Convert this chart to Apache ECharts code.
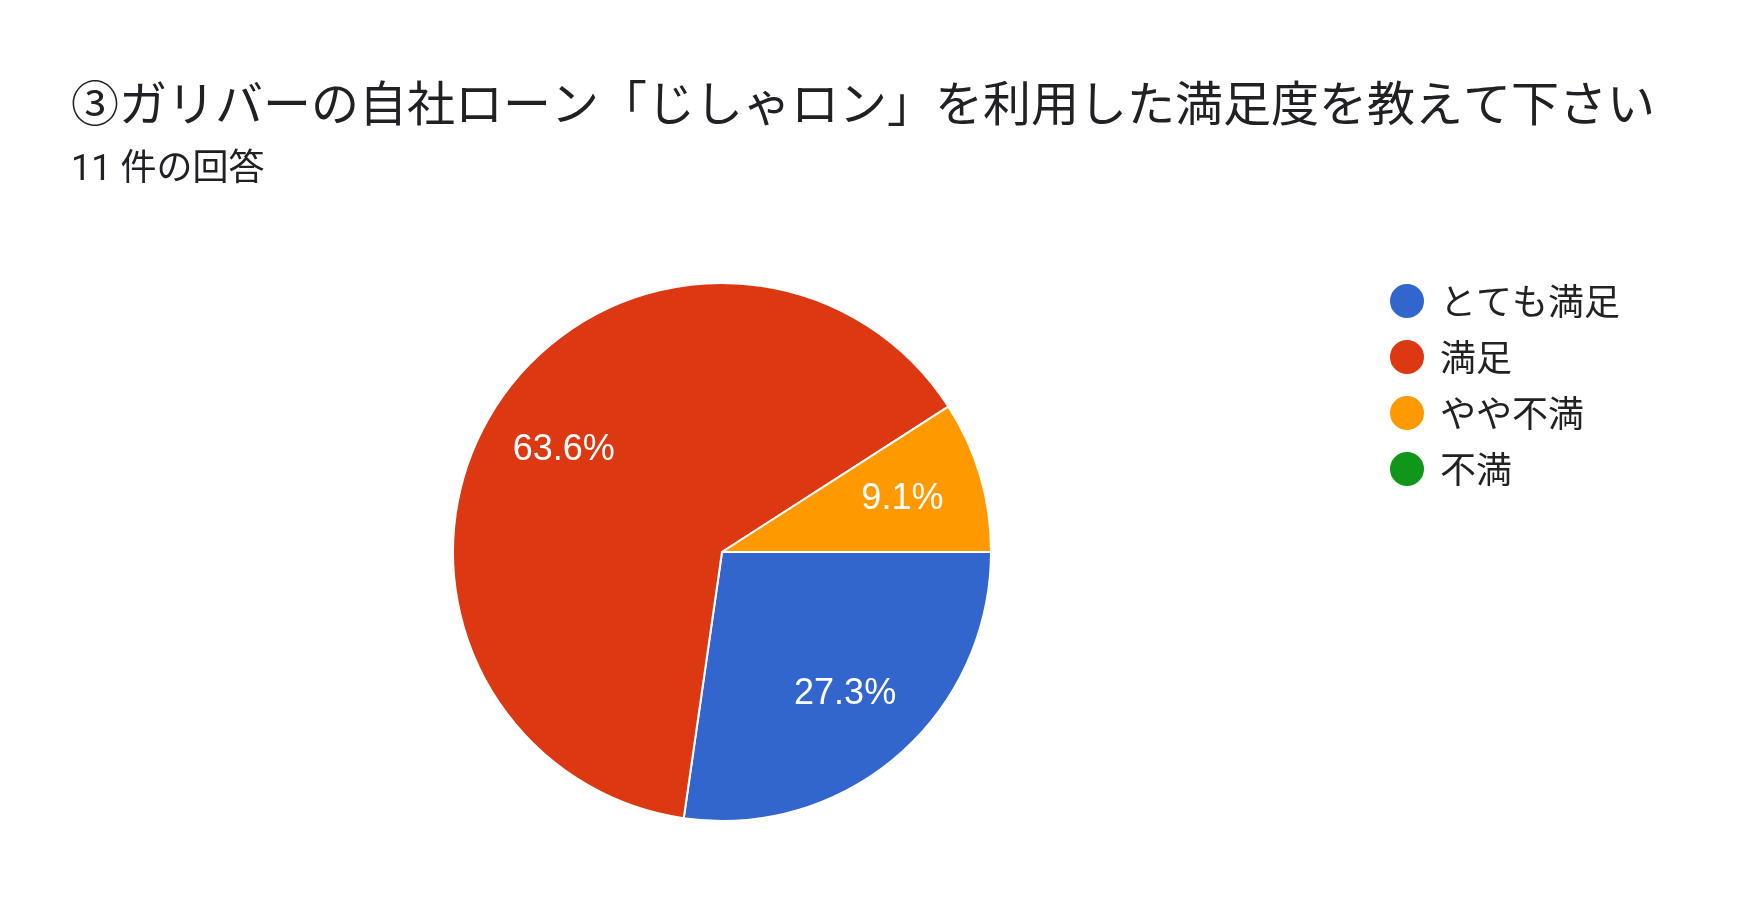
<!DOCTYPE html>
<html>
<head>
<meta charset="utf-8">
<script src="https://cdn.jsdelivr.net/npm/echarts@6/dist/echarts.min.js"></script>
<style>
html,body{margin:0;padding:0;background:#fff;}
#chart{width:1750px;height:922px;}
</style>
</head>
<body>
<div id="chart"></div>
<script>
const titleText = '③ガリバーの自社ローン「じしゃロン」を利用した満足度を教えて下さい';
const subtitleText = '11 件の回答';
const categories = ['とても満足', '満足', 'やや不満', '不満'];
const counts = [3, 7, 1, 0];
const colors = ['#3366CC', '#DC3912', '#FF9900', '#109618'];

const pieData = categories.map((name, i) => ({ name: name, value: counts[i] }));

const chart = echarts.init(document.getElementById('chart'));
const center = [722, 552];
const R = 269;
chart.setOption({
  animation: false,
  color: colors,
  title: {
    text: titleText,
    subtext: subtitleText,
    left: 66,
    top: 69,
    itemGap: 18,
    textStyle: { fontFamily: "'Noto Sans CJK JP', sans-serif", fontSize: 48, fontWeight: 'normal', color: '#202124', lineHeight: 58 },
    subtextStyle: { fontFamily: "Roboto, 'Noto Sans CJK JP', sans-serif", fontSize: 36, color: '#202124', lineHeight: 42 }
  },
  legend: {
    orient: 'vertical',
    left: 1383,
    top: 277,
    icon: 'circle',
    itemWidth: 36,
    itemHeight: 36,
    itemGap: 18,
    data: categories,
    textStyle: { fontFamily: "'Noto Sans CJK JP', sans-serif", fontSize: 36, lineHeight: 36, color: '#222222', padding: [0, 0, 0, 10] }
  },
  series: [
    {
      type: 'pie',
      center: center,
      radius: [0, R],
      startAngle: 0,
      clockwise: true,
      data: pieData,
      label: { show: false },
      labelLine: { show: false },
      itemStyle: { borderColor: '#ffffff', borderWidth: 2 },
      emphasis: { disabled: true }
    },
    {
      type: 'pie',
      center: center,
      radius: [101, R],
      startAngle: 0,
      clockwise: true,
      silent: true,
      percentPrecision: 1,
      data: pieData,
      itemStyle: { color: 'rgba(0,0,0,0)', borderWidth: 0 },
      label: {
        show: true,
        position: 'inside',
        color: '#ffffff',
        fontFamily: "'Liberation Sans', Arial, sans-serif",
        fontSize: 36,
        formatter: p => p.value > 0 ? p.percent.toFixed(1) + '%' : ''
      },
      labelLine: { show: false },
      emphasis: { disabled: true }
    }
  ]
});
</script>
</body>
</html>
